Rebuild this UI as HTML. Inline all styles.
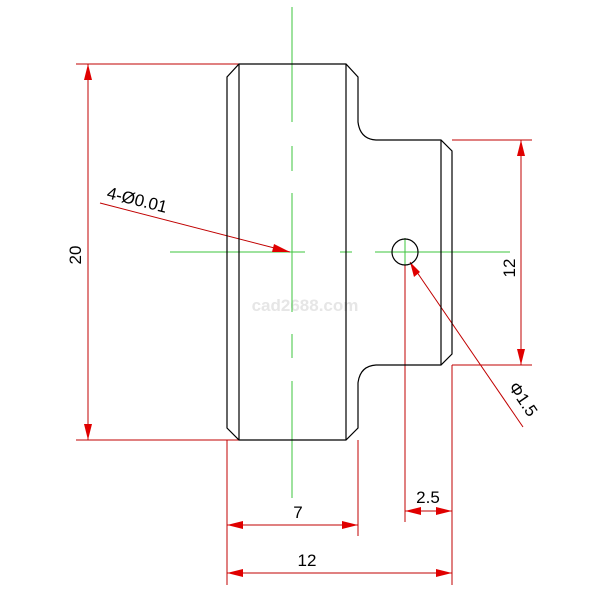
<!DOCTYPE html>
<html><head><style>body{margin:0;background:#fff}svg{display:block}</style></head><body>
<svg width="610" height="610" viewBox="0 0 610 610" xmlns="http://www.w3.org/2000/svg" font-family="Liberation Sans, sans-serif">
<rect width="610" height="610" fill="#fff"/>
<text x="305" y="311" font-size="17" font-weight="bold" fill="#e6e6e6" text-anchor="middle">cad2688.com</text>
<!-- green centerlines -->
<g stroke="#3ec43e" stroke-width="1" fill="none">
<path d="M292 7V122M292 146V171M292 193V312M292 334V358M292 381V498"/>
<path d="M170 252H305M340 252H352M375 252H510"/>
<path d="M405 238V266"/>
</g>
<!-- red dims -->
<g stroke="#c00000" stroke-width="1" fill="none">
<path d="M76 64H239M76 440H239M88 64V440"/>
<path d="M452 140H532M452 365H532M521 140V365"/>
<path d="M227 440V585M358 440V536M405 265V522M452 365V585"/>
<path d="M227 525H358M227 573H452M405 511H452"/>
<path d="M100 203L290 252"/>
<path d="M523 427L410 262"/>
</g>
<g fill="#e00000">
<polygon points="88,64 84,80 92,80"/><polygon points="88,440 84,424 92,424"/>
<polygon points="521,140 517,156 525,156"/><polygon points="521,365 517,349 525,349"/>
<polygon points="227,525 243,521 243,529"/><polygon points="358,525 342,521 342,529"/>
<polygon points="227,573 243,569 243,577"/><polygon points="452,573 436,569 436,577"/>
<polygon points="405,511 421,507 421,515"/><polygon points="452,511 436,507 436,515"/>
<polygon points="290,252 274,244 272,252"/>
<polygon points="410,262 414,277 420,272"/>
</g>
<!-- part outline -->
<g stroke="#000" stroke-width="1.2" fill="none">
<path d="M239 64H346L358 77V122Q360 139 376 140H441L452 151V354L441 365H376Q360 366 358 383V428L346 440H239L227 428V77Z"/>
<path d="M239 64V440M346 64V440M441 140V365"/>
<circle cx="405" cy="252" r="13"/>
</g>
<!-- text -->
<g font-size="17" fill="#000">
<text transform="translate(81,255) rotate(-90)" text-anchor="middle">20</text>
<text transform="translate(515,268) rotate(-90)" text-anchor="middle">12</text>
<text x="298" y="518" text-anchor="middle">7</text>
<text x="307" y="566" text-anchor="middle">12</text>
<text x="428" y="503" text-anchor="middle">2.5</text>
<text transform="translate(106,198) rotate(14)">4-Ø0.01</text>
<text transform="translate(508,387) rotate(56)">Φ1.5</text>
</g>
</svg>
</body></html>
